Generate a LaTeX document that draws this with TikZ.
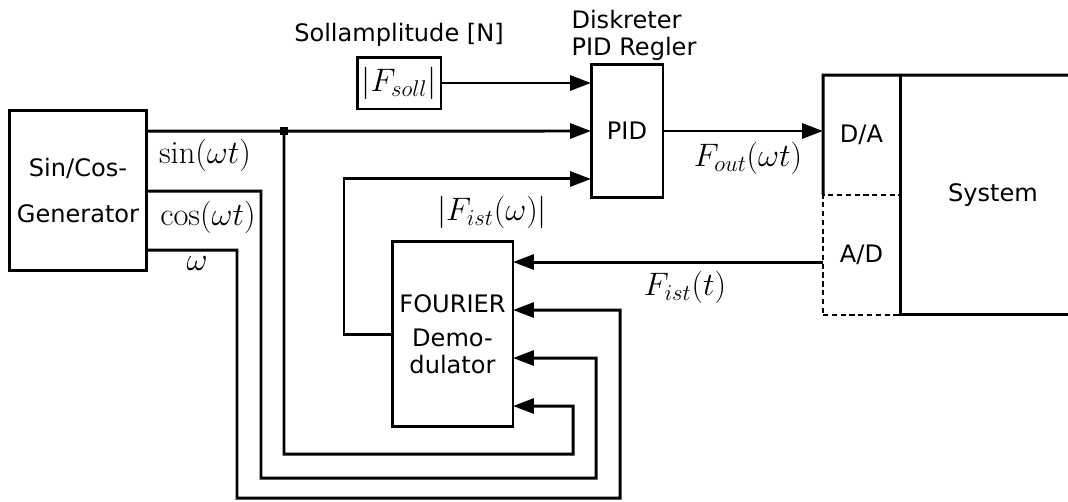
\documentclass[tikz,border=0pt]{standalone}
\usepackage{fix-cm}
\usepackage{fontspec}
\newfontfamily\lblfont{DejaVu Sans}
\usetikzlibrary{arrows.meta, positioning}

\begin{document}
\begin{tikzpicture}[
    x=0.02cm, y=-0.02cm, line width=1.7pt,
    >={Triangle[length=0.42cm, width=0.3cm]},
    lbl/.style={font=\fontsize{13.7}{15.5}\selectfont\lblfont, inner sep=0pt},
    mth/.style={font=\fontsize{18.5}{21}\selectfont, inner sep=0pt},
    blk/.style={draw, lbl, outer sep=0pt}
  ]
  \useasboundingbox (0,0) rectangle (1068,501);

  % blocks
  \node[blk, minimum width=2.76cm, minimum height=3.22cm, align=center]
    (gen) at (78,190.5) {Sin/Cos-\\[11pt]Generator};
  \node[blk, minimum width=1.68cm, minimum height=1.04cm, mth]
    (fsoll) at (399,83) {$|F_{soll}|$};
  \node[blk, minimum width=1.44cm, minimum height=2.68cm]
    (pid) at (627,131) {PID};
  \node[blk, minimum width=2.42cm, minimum height=3.72cm, align=center]
    (four) at (452.5,334) {FOURIER\\[4pt]Demo-\\dulator};
  \node[lbl, outer sep=0pt, minimum width=1.54cm, minimum height=2.4cm]
    (da) at (861.5,135) {D/A};
  \node[lbl, draw, dashed, dash pattern=on 3pt off 2pt, line width=1.3pt,
        outer sep=0pt, minimum width=1.54cm, minimum height=2.4cm]
    (ad) at (861.5,255) {A/D};
  \node[lbl, outer sep=0pt, minimum width=3.36cm, minimum height=4.8cm]
    (sys) at (984,195) {\hspace{0.36cm}System};
  \draw (sys.south east) -- (sys.south west) -- (sys.north west);
  \draw (sys.north east) -- (da.north west) -- (da.south west);

  % titles
  \node[lbl, above=0.18cm of fsoll] (sollamp) {Sollamplitude [N]};
  \node[lbl, anchor=west, align=left] (pidlbl) at (570,35)
    {Diskreter\\PID Regler};

  % ports
  \path (gen.north east) ++(0,21) coordinate (gsin)
        ++(0,60) coordinate (gcos) ++(0,59) coordinate (gom);
  \path (four.north east) ++(0,21) coordinate (p1) ++(0,48) coordinate (p2)
        ++(0,48) coordinate (p3) ++(0,48) coordinate (p4);
  \path (pid.south west) ++(0,-19) coordinate (pidfb);
  \coordinate (jn) at (284,131);

  % signals
  \draw[->] (fsoll) -- (fsoll -| pid.west);
  \draw[->] (gsin) -- (pid.west);
  \fill (jn) ++(-4,-4) rectangle ++(8,8);
  \draw[->] (jn) -- (284,454) -| (573,406) -- (p4);
  \draw[->] (gcos) -| (261,478) -| (596,358) -- (p3);
  \draw[->] (gom) -| (237,498) -| (620,310) -- (p2);
  \draw[->] (four.west) -- (344,334) |- (pidfb);
  \draw[->] (pid.east) -- (pid.east -| da.west);
  \draw[->] (p1 -| ad.west) -- (p1);

  \node[mth] (sinlbl) at (205,155) {$\sin(\omega t)$};
  \node[mth] (coslbl) at (208,217) {$\cos(\omega t)$};
  \node[mth] (omlbl) at (197,263) {$\omega$};
  \node[mth] (fistw) at (492,212) {$|F_{ist}(\omega)|$};
  \node[mth] (fout) at (748,158) {$F_{out}(\omega t)$};
  \node[mth] (fistt) at (685,287) {$F_{ist}(t)$};
\end{tikzpicture}
\end{document}
